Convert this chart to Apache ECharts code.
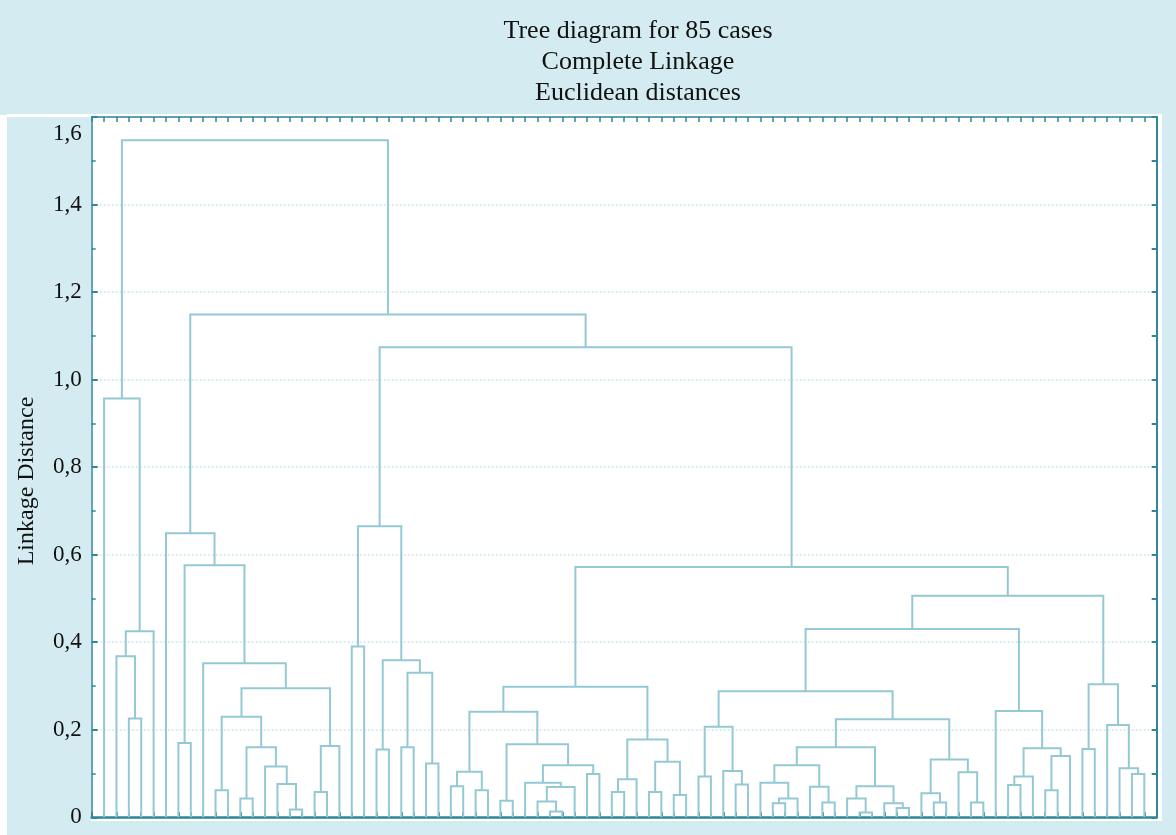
<!DOCTYPE html>
<html><head><meta charset="utf-8">
<script src="https://cdn.jsdelivr.net/npm/echarts@6/dist/echarts.min.js"></script>
<style>html,body{margin:0;padding:0;background:#d3ebf1}#c{width:1176px;height:835px}</style>
</head><body><div id="c"></div>
<script>
const titleLines = ['Tree diagram for 85 cases', 'Complete Linkage', 'Euclidean distances'];
const yAxisName = 'Linkage Distance';
const yTickValues = [0, 0.2, 0.4, 0.6, 0.8, 1.0, 1.2, 1.4, 1.6];
const yTickLabels = ['0', '0,2', '0,4', '0,6', '0,8', '1,0', '1,2', '1,4', '1,6'];
const leafCount = 85;
// merges: [left, right, linkage distance]; positive = leaf number (1..85), negative = earlier merge (-k = merge k)
const merges = [
  [3, 4, 0.226], [2, -1, 0.368], [-2, 5, 0.425], [1, -3, 0.957],
  [7, 8, 0.170], [10, 11, 0.062], [12, 13, 0.043], [16, 17, 0.018],
  [15, -8, 0.076], [14, -9, 0.116], [-7, -10, 0.160], [-6, -11, 0.230],
  [18, 19, 0.058], [-13, 20, 0.163], [-12, -14, 0.295], [9, -15, 0.352],
  [-5, -16, 0.576], [6, -17, 0.649],
  [21, 22, 0.390], [23, 24, 0.155], [25, 26, 0.160], [27, 28, 0.123],
  [-21, -22, 0.330], [-20, -23, 0.359], [-19, -24, 0.665],
  [29, 30, 0.071], [31, 32, 0.062], [-26, -27, 0.104], [33, 34, 0.038],
  [37, 38, 0.013], [36, -30, 0.036], [-31, 39, 0.069], [35, -32, 0.079],
  [40, 41, 0.099], [-33, -34, 0.119], [-29, -35, 0.167], [-28, -36, 0.241],
  [42, 43, 0.058], [-38, 44, 0.087], [45, 46, 0.058], [47, 48, 0.051],
  [-40, -41, 0.127], [-39, -42, 0.178], [-37, -43, 0.298],
  [49, 50, 0.093], [52, 53, 0.075], [51, -46, 0.106], [-45, -47, 0.207],
  [55, 56, 0.032], [-49, 57, 0.043], [54, -50, 0.079], [59, 60, 0.034],
  [58, -52, 0.070], [-51, -53, 0.119], [62, 63, 0.011], [61, -55, 0.043],
  [65, 66, 0.021], [64, -57, 0.032], [-56, -58, 0.071], [-54, -59, 0.160],
  [68, 69, 0.034], [67, -61, 0.055], [71, 72, 0.034], [70, -63, 0.103],
  [-62, -64, 0.132], [-60, -65, 0.224], [-48, -66, 0.288],
  [74, 75, 0.074], [-68, 76, 0.093], [77, 78, 0.062], [-70, 79, 0.140],
  [-69, -71, 0.158], [73, -72, 0.243], [-67, -73, 0.430],
  [80, 81, 0.156], [84, 85, 0.099], [83, -76, 0.112], [82, -77, 0.211],
  [-75, -78, 0.304], [-74, -79, 0.506], [-44, -80, 0.572],
  [-25, -81, 1.074], [-18, -82, 1.149], [-4, -83, 1.547]
];

// derive node positions (in data units) from the tree
const mergePos = [];
function nodePos(n) { return n > 0 ? n : mergePos[-n - 1]; }
function nodeH(n) { return n > 0 ? 0 : merges[-n - 1][2]; }
merges.forEach(function (m) { mergePos.push((nodePos(m[0]) + nodePos(m[1])) / 2); });
const seriesData = merges.map(function (m, i) { return [i, m[2]]; });

const AX = '#2f8798';
const LINE = '#94c9d4';
const FONT = 'Liberation Serif';

const chart = echarts.init(document.getElementById('c'), null, { renderer: 'canvas' });
chart.setOption({
  backgroundColor: '#d3ebf1',
  animation: false,
  graphic: [
    { type: 'rect', z: -10, shape: { x: 0, y: 115, width: 7, height: 720 }, style: { fill: '#ffffff' } },
    { type: 'rect', z: -10, shape: { x: 7, y: 114, width: 1155, height: 3 }, style: { fill: '#ffffff' } },
    { type: 'rect', z: -10, shape: { x: 91, y: 114, width: 1071, height: 707 }, style: { fill: '#ffffff' } },
    { type: 'text', style: { text: titleLines[0], x: 638, y: 31, align: 'center', verticalAlign: 'middle', font: '26px "Liberation Serif"', fill: '#111' } },
    { type: 'text', style: { text: titleLines[1], x: 638, y: 62, align: 'center', verticalAlign: 'middle', font: '26px "Liberation Serif"', fill: '#111' } },
    { type: 'text', style: { text: titleLines[2], x: 638, y: 93, align: 'center', verticalAlign: 'middle', font: '26px "Liberation Serif"', fill: '#111' } },
    { type: 'text', x: 27, y: 481, rotation: Math.PI / 2, style: { text: yAxisName, x: 0, y: 0, align: 'center', verticalAlign: 'middle', font: '24px "Liberation Serif"', fill: '#111' } }
  ],
  grid: { left: 91.7, right: 19.3, top: 117, bottom: 17.7, show: false },
  xAxis: [
    { type: 'value', min: 0, max: 86, interval: 1, position: 'bottom',
      axisLine: { show: true, onZero: false, lineStyle: { color: AX, width: 2.5 } },
      axisTick: { show: true, inside: true, length: 5, lineStyle: { color: AX, width: 2 } },
      axisLabel: { show: false }, splitLine: { show: false } },
    { type: 'value', min: 0, max: 86, interval: 1, position: 'top',
      axisLine: { show: true, onZero: false, lineStyle: { color: AX, width: 1.5 } },
      axisTick: { show: true, inside: true, length: 5, lineStyle: { color: AX, width: 1.5 } },
      axisLabel: { show: false }, splitLine: { show: false } }
  ],
  yAxis: [
    { type: 'value', min: 0, max: 1.6, interval: 0.2, position: 'left',
      axisLine: { show: true, onZero: false, lineStyle: { color: AX, width: 1.5 } },
      axisTick: { show: true, inside: true, length: 6, lineStyle: { color: AX, width: 2 } },
      minorTick: { show: true, splitNumber: 2, length: 4, lineStyle: { color: AX, width: 1.5 } },
      axisLabel: {
        margin: 10, color: '#111', fontFamily: FONT, fontSize: 23,
        formatter: function (v) {
          const i = yTickValues.findIndex(function (t) { return Math.abs(t - v) < 1e-6; });
          if (i === yTickValues.length - 1) return '{top|' + yTickLabels[i] + '}';
          return i >= 0 ? yTickLabels[i] : '';
        },
        rich: { top: { padding: [34, 0, 0, 0], fontFamily: FONT, fontSize: 23, color: '#111' } }
      },
      splitLine: { show: true, lineStyle: { color: '#cfe6ec', type: [2, 2], width: 1.5 } } },
    { type: 'value', min: 0, max: 1.6, interval: 0.2, position: 'right',
      axisLine: { show: true, onZero: false, lineStyle: { color: AX, width: 2 } },
      axisTick: { show: true, inside: true, length: 5, lineStyle: { color: AX, width: 2 } },
      minorTick: { show: true, splitNumber: 2, length: 5, lineStyle: { color: AX, width: 2 } },
      axisLabel: { show: false }, splitLine: { show: false } }
  ],
  series: [{
    type: 'custom',
    xAxisIndex: 0, yAxisIndex: 0,
    data: seriesData,
    renderItem: function (params, api) {
      const m = merges[api.value(0)];
      const h = api.value(1);
      const xl = nodePos(m[0]), xr = nodePos(m[1]);
      const pts = [
        api.coord([xl, nodeH(m[0])]),
        api.coord([xl, h]),
        api.coord([xr, h]),
        api.coord([xr, nodeH(m[1])])
      ];
      return { type: 'polyline', shape: { points: pts }, style: { stroke: LINE, lineWidth: 2, fill: null } };
    }
  }]
});
</script></body></html>
